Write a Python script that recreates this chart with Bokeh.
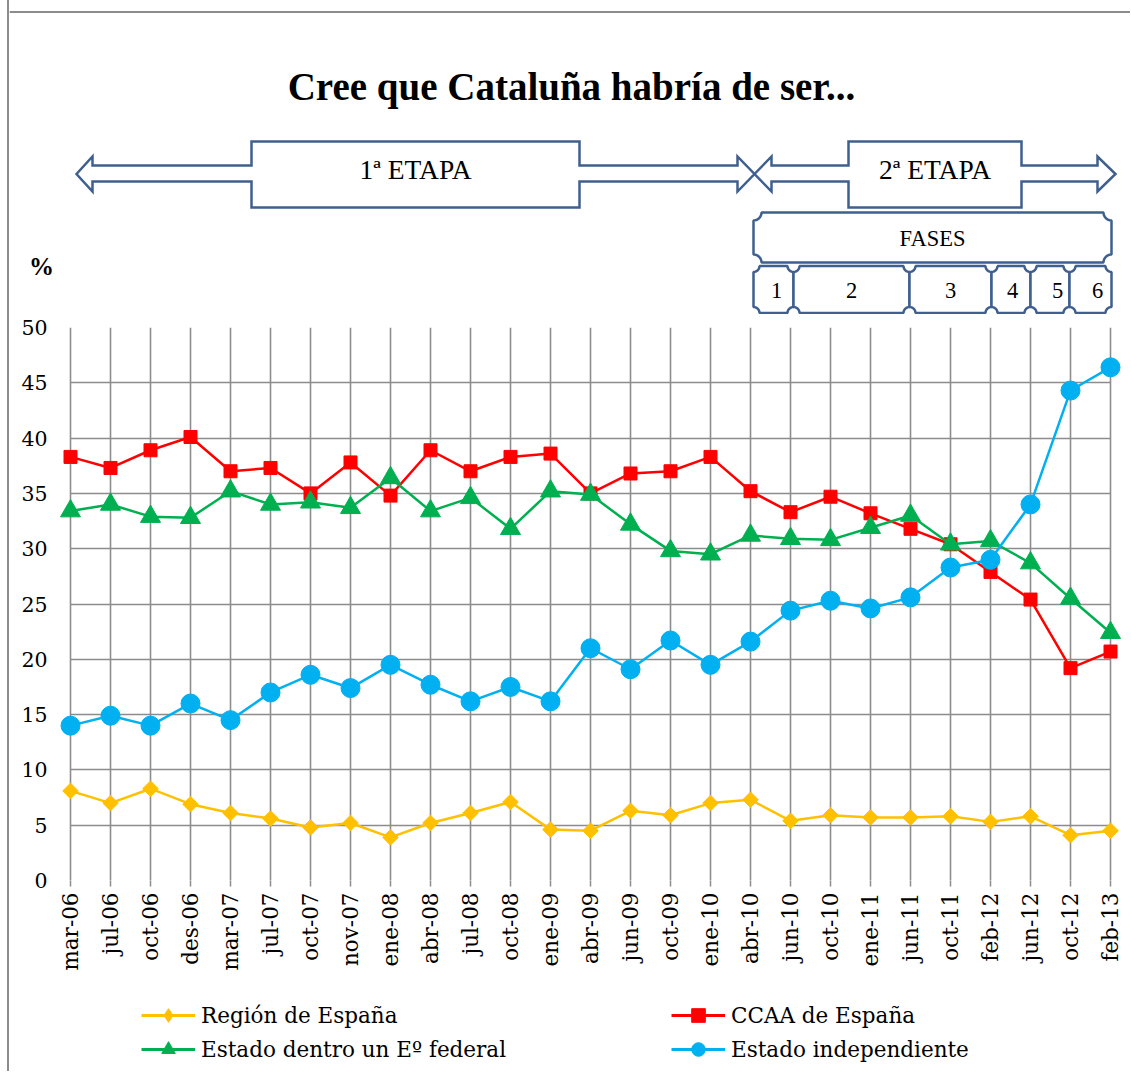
import math
import numpy as np
from bokeh.plotting import figure
from bokeh.layouts import column
from bokeh.models import Range1d, FixedTicker, Legend, LegendItem, ColumnDataSource
from bokeh.core.properties import value
from bokeh.embed import file_html
from bokeh.resources import INLINE

# ---------------- data ----------------
labels = ["mar-06", "jul-06", "oct-06", "des-06", "mar-07", "jul-07", "oct-07", "nov-07",
          "ene-08", "abr-08", "jul-08", "oct-08", "ene-09", "abr-09", "jun-09", "oct-09",
          "ene-10", "abr-10", "jun-10", "oct-10", "ene-11", "jun-11", "oct-11", "feb-12",
          "jun-12", "oct-12", "feb-13"]
region = [8.1, 7.0, 8.3, 6.9, 6.1, 5.6, 4.8, 5.2, 3.9, 5.2, 6.1, 7.1, 4.6, 4.5, 6.3, 5.9,
          7.0, 7.3, 5.4, 5.9, 5.7, 5.7, 5.8, 5.3, 5.8, 4.1, 4.5]
ccaa = [38.3, 37.3, 38.9, 40.1, 37.0, 37.3, 35.0, 37.8, 34.8, 38.9, 37.0, 38.3, 38.6, 35.0,
        36.8, 37.0, 38.3, 35.2, 33.3, 34.7, 33.2, 31.8, 30.4, 27.9, 25.4, 19.2, 20.7]
federal = [33.4, 34.0, 32.9, 32.8, 35.2, 34.0, 34.2, 33.7, 36.4, 33.4, 34.6, 31.8, 35.2, 34.9,
           32.2, 29.8, 29.5, 31.2, 30.9, 30.8, 31.9, 33.0, 30.4, 30.7, 28.7, 25.5, 22.4]
indep = [14.0, 14.9, 14.0, 16.0, 14.5, 17.0, 18.6, 17.4, 19.5, 17.7, 16.2, 17.5, 16.2, 21.0,
         19.1, 21.7, 19.5, 21.6, 24.4, 25.3, 24.6, 25.6, 28.3, 29.0, 34.0, 44.3, 46.4]
series_names = ["Región de España", "CCAA de España", "Estado dentro un Eº federal",
                "Estado independiente"]
y_ticks = [0, 5, 10, 15, 20, 25, 30, 35, 40, 45, 50]

title_text = "Cree que Cataluña habría de ser..."
etapa_labels = ["1ª ETAPA", "2ª ETAPA"]
fases_title = "FASES"
fase_labels = ["1", "2", "3", "4", "5", "6"]
unit_label = "%"

# ---------------- styles ----------------
YEL, RED, GRN, BLU = "#FFC000", "#FF0000", "#00B050", "#00B0F0"
GRID = "#8c8c8c"
SHAPE = "#3F5F8F"
SERIF = "Liberation Serif"
AXF = "DejaVu Serif"

X0 = 9            # page x of canvas left edge
W = 1121          # canvas width (page x 9 .. 1130)
TOP_H = 314
MAIN_H = 671
LEG_H = 86


def no_align(fig):
    try:
        fig.frame_align = False
    except Exception:
        pass


# ---------------- top figure (title, etapas, fases) ----------------
top = figure(width=W, height=TOP_H, x_range=Range1d(X0, X0 + W), y_range=Range1d(TOP_H, 0),
             output_backend="svg", toolbar_location=None, min_border=0,
             min_border_left=0, min_border_right=0, min_border_top=0, min_border_bottom=0,
             x_axis_location=None, y_axis_location=None, outline_line_color=None)
top.grid.visible = False
no_align(top)

# outer frame top edge
top.line([X0, X0 + W], [11.5, 11.5], line_color=GRID, line_width=2)

top.text(x=[571], y=[86], text=[title_text], text_font=value(SERIF), text_font_style="bold",
         text_font_size="39px", text_align="center", text_baseline="alphabetic", text_color="black")
top.text(x=[41], y=[266], text=[unit_label], text_font=value(SERIF), text_font_style="bold",
         text_font_size="25px", text_align="center", text_baseline="middle", text_color="black")


def dbl_arrow(xl, xbl, bx0, bx1, xbr, xr):
    t, st, bt, mid, sb, bb, b = 141, 165, 156, 173.5, 181, 191, 207
    xs = [xl, xbl, xbl, bx0, bx0, bx1, bx1, xbr, xbr, xr, xbr, xbr, bx1, bx1, bx0, bx0, xbl, xbl]
    ys = [mid, bt, st, st, t, t, st, st, bt, mid, bb, sb, sb, b, b, sb, sb, bb]
    return xs, ys


a1 = dbl_arrow(76, 92, 251, 579, 737, 754)
a2 = dbl_arrow(754, 771, 848, 1021, 1097, 1115)
top.patches([a1[0], a2[0]], [a1[1], a2[1]], fill_color="white", line_color=SHAPE,
            line_width=2.5, line_join="miter")
top.text(x=[415, 934.5], y=[168.5, 168.5], text=etapa_labels, text_font=value(SERIF),
         text_font_size="27.5px", text_align="center", text_baseline="middle", text_color="black")


def plaque(x0, x1, y0, y1, r, n=10):
    xs, ys = [], []
    corners = [((x1, y0), 180, 90), ((x1, y1), 270, 180), ((x0, y1), 0, -90), ((x0, y0), 90, 0)]
    for (cx, cy), a0, a1_ in corners:
        for t in np.linspace(math.radians(a0), math.radians(a1_), n):
            xs.append(cx + r * math.cos(t))
            ys.append(cy + r * math.sin(t))
    return xs, ys


fx, fy = plaque(753, 1111, 212, 262, 8)
top.patch(fx, fy, fill_color="white", line_color=SHAPE, line_width=2.5)
top.text(x=[932], y=[238], text=[fases_title], text_font=value(SERIF), text_font_size="22.5px",
         text_align="center", text_baseline="middle", text_color="black")

bounds = [753, 793, 909, 991, 1030, 1069, 1111]
pxs, pys = [], []
for i in range(len(bounds) - 1):
    a, b = plaque(bounds[i], bounds[i + 1], 265.5, 312.5, 6)
    pxs.append(a)
    pys.append(b)
top.patches(pxs, pys, fill_color="white", line_color=SHAPE, line_width=2.5)
top.text(x=[776, 851, 950, 1012, 1057, 1097], y=[290] * 6, text=fase_labels,
         text_font=value(SERIF), text_font_size="22.5px", text_align="center",
         text_baseline="middle", text_color="black")

# ---------------- main chart ----------------
xs = list(range(len(labels)))
src = ColumnDataSource(dict(x=xs, region=region, ccaa=ccaa, federal=federal, indep=indep))

p = figure(width=W, height=MAIN_H, x_range=Range1d(-0.3, len(labels) - 1 + 0.3),
           y_range=Range1d(0, 50), output_backend="svg", toolbar_location=None,
           min_border_left=49, min_border_right=8, min_border_top=13, min_border_bottom=105,
           outline_line_color=None)
no_align(p)

p.xaxis.ticker = FixedTicker(ticks=xs)
p.xaxis.major_label_overrides = {i: lab for i, lab in enumerate(labels)}
p.xaxis.major_label_orientation = math.pi / 2
p.xaxis.axis_line_color = None
p.xaxis.major_tick_line_color = GRID
p.xaxis.major_tick_line_width = 1.5
p.xaxis.major_tick_in = 0
p.xaxis.major_tick_out = 6
p.xaxis.minor_tick_line_color = None
p.xaxis.major_label_standoff = 6
p.xaxis.major_label_text_font = AXF
p.xaxis.major_label_text_font_size = "21.5px"
p.xaxis.major_label_text_color = "black"

p.yaxis.ticker = FixedTicker(ticks=y_ticks)
p.yaxis.axis_line_color = None
p.yaxis.major_tick_line_color = None
p.yaxis.minor_tick_line_color = None
p.yaxis.major_tick_in = 0
p.yaxis.major_tick_out = 0
p.yaxis.major_label_standoff = 11
p.yaxis.major_label_text_font = AXF
p.yaxis.major_label_text_font_size = "20.5px"
p.yaxis.major_label_text_color = "black"

p.grid.grid_line_color = GRID
p.grid.grid_line_width = 1.6
try:
    p.ygrid.cross_bounds = (0, len(labels) - 1)
except Exception:
    p.ygrid.visible = False
    p.segment(x0=[0] * len(y_ticks), x1=[len(labels) - 1] * len(y_ticks), y0=y_ticks,
              y1=y_ticks, line_color=GRID, line_width=1.6)

p.line("x", "region", source=src, line_color=YEL, line_width=2.5)
p.scatter("x", "region", source=src, marker="square", angle=math.pi / 4, size=11,
          fill_color=YEL, line_color=YEL)
p.line("x", "ccaa", source=src, line_color=RED, line_width=2.5)
p.scatter("x", "ccaa", source=src, marker="square", size=13, fill_color=RED, line_color=RED)
p.line("x", "federal", source=src, line_color=GRN, line_width=2.5)
p.scatter("x", "federal", source=src, marker="triangle", size=20, fill_color=GRN,
          line_color=GRN)
p.line("x", "indep", source=src, line_color=BLU, line_width=2.5)
p.scatter("x", "indep", source=src, marker="circle", size=19, fill_color=BLU, line_color=BLU)

# ---------------- legend ----------------
leg = figure(width=W, height=LEG_H, x_range=Range1d(0, 1), y_range=Range1d(0, 1),
             output_backend="svg", toolbar_location=None, min_border=0,
             min_border_left=0, min_border_right=0, min_border_top=0, min_border_bottom=0,
             x_axis_location=None, y_axis_location=None, outline_line_color=None)
leg.grid.visible = False
no_align(leg)

markers = [("diamond", YEL), ("square", RED), ("triangle", GRN), ("circle", BLU)]
items = []
for name, (mk, col) in zip(series_names, markers):
    # off-screen stand-in renderers: they only supply the legend's glyph style
    lr = leg.line(x=[-5, -4], y=[-5, -5], line_color=col, line_width=3)
    sr = leg.scatter(x=[-5], y=[-5], marker=mk, fill_color=col, line_color=col)
    items.append(LegendItem(label=name, renderers=[lr, sr]))


def make_legend(its, loc):
    return Legend(items=its, location=loc, orientation="vertical", glyph_width=54,
                  glyph_height=34, label_standoff=6, spacing=0, padding=0, margin=0,
                  border_line_color=None, background_fill_alpha=0,
                  label_text_font=AXF, label_text_font_size="21.5px",
                  label_text_color="black")


leg.add_layout(make_legend([items[0], items[2]], (141 - X0, 5)))
leg.add_layout(make_legend([items[1], items[3]], (671 - X0, 5)))

layout = column(top, p, leg, styles={"border-left": "2px solid #8c8c8c", "margin-left": "7px"})
open("out.html", "w").write(file_html(layout, INLINE))
